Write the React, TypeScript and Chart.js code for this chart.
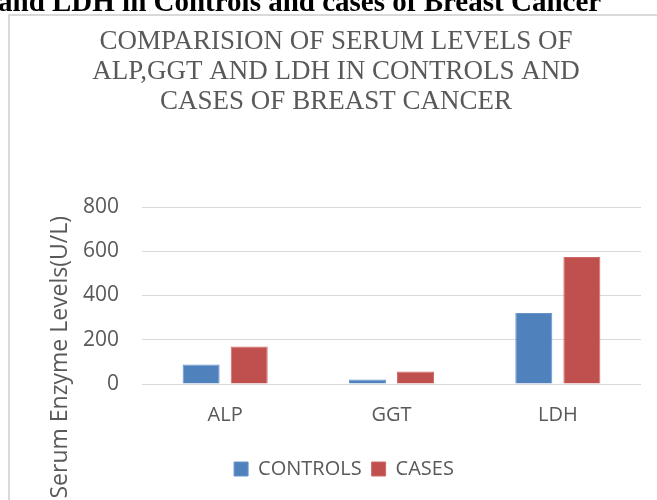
import React, { useEffect, useRef } from "react";
import { Chart, registerables } from "chart.js";

Chart.register(...registerables);

const categories = ["ALP", "GGT", "LDH"];
const controls = [88, 20, 321];
const cases = [169, 57, 574];
const seriesNames = ["CONTROLS", "CASES"];
const yMin = 0;
const yMax = 800;
const yStep = 200;
const titleLines = [
  "COMPARISION OF SERUM LEVELS OF",
  "ALP,GGT AND LDH IN CONTROLS AND",
  "CASES OF BREAST CANCER",
];
const yAxisTitle = "Serum Enzyme Levels(U/L)";
const headingText = "and LDH in Controls and cases of Breast Cancer";

const overlay = {
  id: "overlay",
  afterDraw(chart: any) {
    const ctx = chart.ctx;
    ctx.save();
    ctx.fillStyle = "#000000";
    ctx.font = "bold 29px 'Liberation Serif'";
    ctx.textAlign = "left";
    ctx.textBaseline = "alphabetic";
    ctx.fillText(headingText, -2, 11);

    ctx.fillStyle = "#595959";
    ctx.font = "27px 'Liberation Serif'";
    ctx.textAlign = "center";
    titleLines.forEach((l, i) => ctx.fillText(l, 336, 49 + i * 30));

    ctx.translate(60, 216);
    ctx.rotate(-Math.PI / 2);
    ctx.font = "23px 'Open Sans'";
    ctx.textAlign = "right";
    ctx.textBaseline = "middle";
    ctx.fillText(yAxisTitle, 0, 0);
    ctx.restore();
  },
};

export default function App() {
  const ref = useRef<HTMLCanvasElement | null>(null);
  useEffect(() => {
    if (!ref.current) return;
    const chart = new Chart(ref.current, {
      type: "bar",
      data: {
        labels: categories,
        datasets: [
          {
            label: seriesNames[0],
            data: controls,
            backgroundColor: "#4F81BD",
            borderColor: "#6A95CB",
            borderWidth: 1,
            categoryPercentage: 0.578,
            barPercentage: 0.77,
          },
          {
            label: seriesNames[1],
            data: cases,
            backgroundColor: "#C0504D",
            borderColor: "#CD6A67",
            borderWidth: 1,
            categoryPercentage: 0.578,
            barPercentage: 0.77,
          },
        ],
      },
      options: {
        animation: false,
        responsive: false,
        maintainAspectRatio: false,
        layout: { padding: { top: 207, left: 47, right: 16, bottom: 11 } },
        plugins: {
          title: { display: false },
          tooltip: { enabled: false },
          legend: {
            display: true,
            position: "bottom",
            labels: {
              color: "#595959",
              font: { family: "'Open Sans'", size: 20 },
              boxWidth: 14,
              boxHeight: 14,
              padding: 10,
            },
          },
        },
        scales: {
          x: {
            grid: { display: false },
            border: { display: false },
            afterFit: (scale: any) => {
              scale.height += 11;
            },
            ticks: {
              color: "#595959",
              font: { family: "'Open Sans'", size: 20 },
              padding: 11,
            },
          },
          y: {
            min: yMin,
            max: yMax,
            grid: { color: "#D9D9D9", lineWidth: 1, drawTicks: false },
            border: { display: false },
            afterFit: (scale: any) => {
              scale.width = 95;
            },
            ticks: {
              stepSize: yStep,
              color: "#595959",
              font: { family: "'Open Sans'", size: 21 },
              padding: 23,
            },
          },
        },
      },
      plugins: [overlay],
    });
    return () => chart.destroy();
  }, []);

  return (
    <div
      style={{
        position: "absolute",
        left: 0,
        top: 0,
        width: 657,
        height: 500,
        overflow: "hidden",
        background: "#ffffff",
      }}
    >
      <div
        style={{
          position: "absolute",
          left: 8,
          top: 14,
          width: 700,
          height: 600,
          borderLeft: "2px solid #D9D9D9",
          borderTop: "2px solid #D9D9D9",
        }}
      />
      <canvas
        ref={ref}
        width={657}
        height={500}
        style={{ position: "absolute", left: 0, top: 0, width: 657, height: 500 }}
      />
    </div>
  );
}
